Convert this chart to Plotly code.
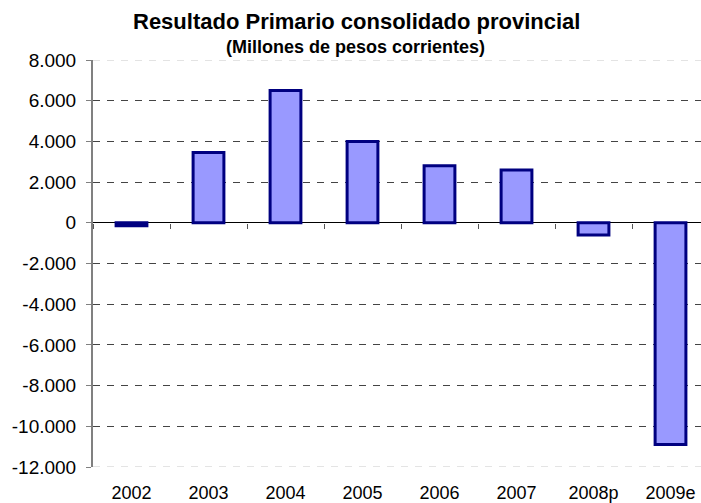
import plotly.graph_objects as go

years = ["2002", "2003", "2004", "2005", "2006", "2007", "2008p", "2009e"]
resultado = [-150, 3450, 6500, 4000, 2800, 2600, -600, -10900]

y_ticks = [8000, 6000, 4000, 2000, 0, -2000, -4000, -6000, -8000, -10000, -12000]
y_labels = ["8.000", "6.000", "4.000", "2.000", "0", "-2.000", "-4.000",
            "-6.000", "-8.000", "-10.000", "-12.000"]

titulo = "Resultado Primario consolidado provincial"
subtitulo = "(Millones de pesos corrientes)"

x_range = [-0.5, 7.396]

fig = go.Figure()
fig.add_bar(x=years, y=resultado,
            marker=dict(color="#9999FF", line=dict(color="#000080", width=3)))
# dummy trace so the tick axis on the zero line gets drawn
fig.add_scatter(x=[None], y=[None], xaxis="x2", showlegend=False, hoverinfo="skip")

# edge gridlines are lighter than the inner ones
for v in (y_ticks[0], y_ticks[-1]):
    fig.add_shape(type="line", xref="paper", x0=0, x1=1, y0=v, y1=v, layer="below",
                  line=dict(color="#FFFFFF", width=2))
    fig.add_shape(type="line", xref="paper", x0=0, x1=1, y0=v, y1=v, layer="below",
                  line=dict(color="#C8C8C8", width=1, dash="7px,7px"))

fig.add_annotation(text="<b>" + titulo + "</b>", xref="paper", yref="paper",
                   x=0.434, y=1.0936, xanchor="center", yanchor="middle",
                   showarrow=False, font=dict(size=22))
fig.add_annotation(text="<b>" + subtitulo + "</b>", xref="paper", yref="paper",
                   x=0.432, y=1.031, xanchor="center", yanchor="middle",
                   showarrow=False, font=dict(size=18))

fig.update_layout(
    width=701, height=503,
    margin=dict(l=93, r=0, t=60, b=36),
    paper_bgcolor="white", plot_bgcolor="white",
    font=dict(family="Liberation Sans, Arial", size=19, color="black"),
    showlegend=False,
    bargap=0.6,
    xaxis=dict(range=x_range, showline=False, showgrid=False, ticks="",
               ticklabelstandoff=13, tickfont=dict(size=18), automargin=False),
    xaxis2=dict(overlaying="x", anchor="free", position=0.6, range=x_range,
                tickvals=[-0.5, 0.5, 1.5, 2.5, 3.5, 4.5, 5.5, 6.5],
                ticks="outside", ticklen=5, tickcolor="#555555", tickwidth=1,
                showticklabels=False, showline=False, showgrid=False,
                zeroline=False, automargin=False),
    yaxis=dict(range=[-12000, 8000], tickvals=y_ticks, ticktext=y_labels,
               showline=True, linecolor="#808080", linewidth=2,
               ticks="outside", ticklen=5, tickcolor="#808080",
               ticklabelstandoff=6,
               showgrid=True, gridcolor="#444444", griddash="7px,7px", gridwidth=1,
               zeroline=True, zerolinecolor="black", zerolinewidth=1,
               automargin=False),
)

# drop the default page margin so the 701x503 figure fills the window exactly
fig.write_html("out.html", config={"displayModeBar": False},
               post_script="document.body.style.margin='0';document.body.style.overflow='hidden';")
